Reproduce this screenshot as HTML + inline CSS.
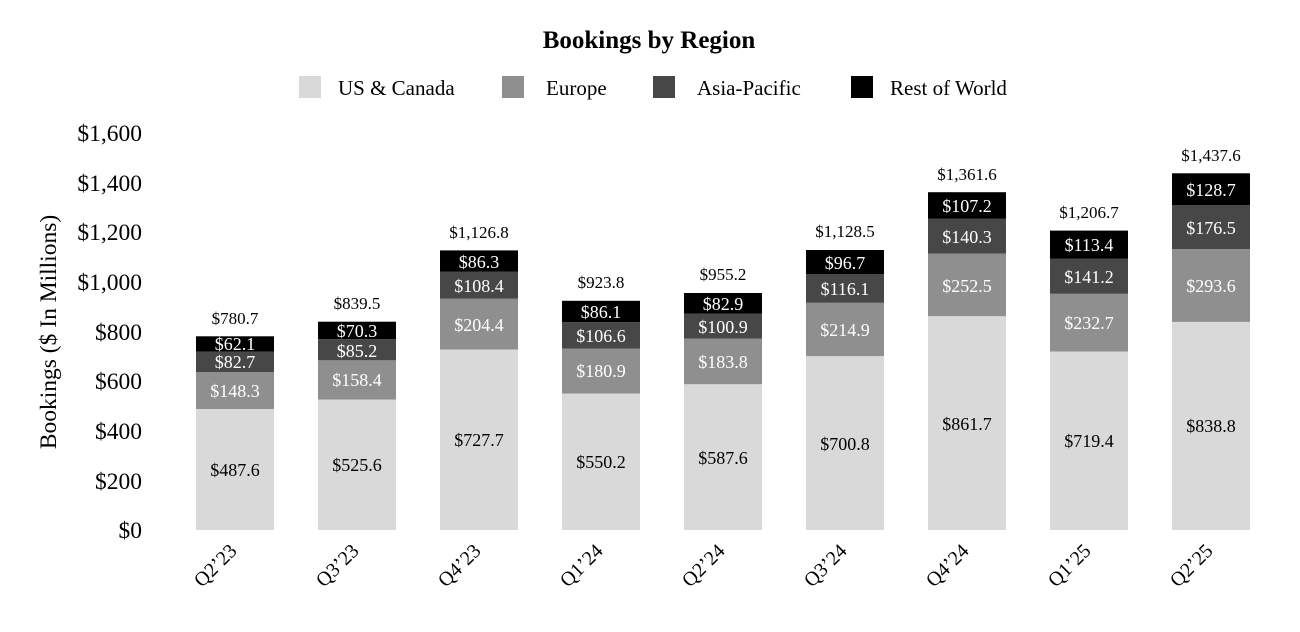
<!DOCTYPE html>
<html><head><meta charset="utf-8"><style>html,body{margin:0;padding:0;background:#fff}svg{display:block}</style></head>
<body>
<svg width="1300" height="632" viewBox="0 0 1300 632" xmlns="http://www.w3.org/2000/svg" font-family="'Liberation Serif', serif">
<text x="649" y="48" font-size="25" font-weight="bold" text-anchor="middle">Bookings by Region</text>
<rect x="299" y="76" width="22" height="22" fill="#d9d9d9"/><text x="338" y="95" font-size="21">US &amp; Canada</text>
<rect x="502" y="76" width="22" height="22" fill="#8f8f8f"/><text x="546" y="95" font-size="21">Europe</text>
<rect x="653" y="76" width="22" height="22" fill="#474747"/><text x="697" y="95" font-size="21">Asia-Pacific</text>
<rect x="851" y="76" width="22" height="22" fill="#000"/><text x="890" y="95" font-size="21">Rest of World</text>
<g font-size="23.5" text-anchor="end">
<text x="142" y="141">$1,600</text><text x="142" y="191">$1,400</text><text x="142" y="240">$1,200</text><text x="142" y="290">$1,000</text><text x="142" y="340">$800</text><text x="142" y="389">$600</text><text x="142" y="439">$400</text><text x="142" y="489">$200</text><text x="142" y="538">$0</text>
</g>
<text transform="translate(56,332) rotate(-90)" font-size="23.5" text-anchor="middle">Bookings ($ In Millions)</text>
<g>
<rect x="196" y="409.0" width="78" height="121.0" fill="#d9d9d9"/><rect x="196" y="372.2" width="78" height="36.8" fill="#8f8f8f"/><rect x="196" y="351.7" width="78" height="20.5" fill="#474747"/><rect x="196" y="336.3" width="78" height="15.4" fill="#000"/>
<rect x="318" y="399.6" width="78" height="130.4" fill="#d9d9d9"/><rect x="318" y="360.3" width="78" height="39.3" fill="#8f8f8f"/><rect x="318" y="339.2" width="78" height="21.1" fill="#474747"/><rect x="318" y="321.7" width="78" height="17.5" fill="#000"/>
<rect x="440" y="349.5" width="78" height="180.5" fill="#d9d9d9"/><rect x="440" y="298.7" width="78" height="50.8" fill="#8f8f8f"/><rect x="440" y="271.8" width="78" height="26.9" fill="#474747"/><rect x="440" y="250.4" width="78" height="21.4" fill="#000"/>
<rect x="562" y="393.5" width="78" height="136.5" fill="#d9d9d9"/><rect x="562" y="348.6" width="78" height="44.9" fill="#8f8f8f"/><rect x="562" y="322.2" width="78" height="26.4" fill="#474747"/><rect x="562" y="300.8" width="78" height="21.4" fill="#000"/>
<rect x="684" y="384.2" width="78" height="145.8" fill="#d9d9d9"/><rect x="684" y="338.6" width="78" height="45.6" fill="#8f8f8f"/><rect x="684" y="313.6" width="78" height="25.0" fill="#474747"/><rect x="684" y="293.0" width="78" height="20.6" fill="#000"/>
<rect x="806" y="356.1" width="78" height="173.9" fill="#d9d9d9"/><rect x="806" y="302.8" width="78" height="53.3" fill="#8f8f8f"/><rect x="806" y="274.0" width="78" height="28.8" fill="#474747"/><rect x="806" y="250.0" width="78" height="24.0" fill="#000"/>
<rect x="928" y="316.2" width="78" height="213.8" fill="#d9d9d9"/><rect x="928" y="253.6" width="78" height="62.6" fill="#8f8f8f"/><rect x="928" y="218.8" width="78" height="34.8" fill="#474747"/><rect x="928" y="192.2" width="78" height="26.6" fill="#000"/>
<rect x="1050" y="351.5" width="78" height="178.5" fill="#d9d9d9"/><rect x="1050" y="293.8" width="78" height="57.7" fill="#8f8f8f"/><rect x="1050" y="258.8" width="78" height="35.0" fill="#474747"/><rect x="1050" y="230.6" width="78" height="28.2" fill="#000"/>
<rect x="1172" y="321.9" width="78" height="208.1" fill="#d9d9d9"/><rect x="1172" y="249.1" width="78" height="72.8" fill="#8f8f8f"/><rect x="1172" y="205.3" width="78" height="43.8" fill="#474747"/><rect x="1172" y="173.3" width="78" height="32.0" fill="#000"/>
</g>
<g font-size="18" text-anchor="middle">
<text x="235" y="476">$487.6</text><text x="357" y="471">$525.6</text><text x="479" y="446">$727.7</text><text x="601" y="468">$550.2</text><text x="723" y="464">$587.6</text><text x="845" y="450">$700.8</text><text x="967" y="430">$861.7</text><text x="1089" y="447">$719.4</text><text x="1211" y="432">$838.8</text>
</g>
<g font-size="17" text-anchor="middle">
<text x="235" y="324">$780.7</text><text x="357" y="309">$839.5</text><text x="479" y="238">$1,126.8</text><text x="601" y="288">$923.8</text><text x="723" y="280">$955.2</text><text x="845" y="237">$1,128.5</text><text x="967" y="180">$1,361.6</text><text x="1089" y="218">$1,206.7</text><text x="1211" y="161">$1,437.6</text>
</g>
<g font-size="18" text-anchor="middle" fill="#fff">
<text x="235" y="397">$148.3</text><text x="357" y="386">$158.4</text><text x="479" y="331">$204.4</text><text x="601" y="377">$180.9</text><text x="723" y="368">$183.8</text><text x="845" y="336">$214.9</text><text x="967" y="292">$252.5</text><text x="1089" y="329">$232.7</text><text x="1211" y="292">$293.6</text>
<text x="235" y="368">$82.7</text><text x="357" y="357">$85.2</text><text x="479" y="292">$108.4</text><text x="601" y="342">$106.6</text><text x="723" y="333">$100.9</text><text x="845" y="295">$116.1</text><text x="967" y="243">$140.3</text><text x="1089" y="283">$141.2</text><text x="1211" y="234">$176.5</text>
<text x="235" y="350">$62.1</text><text x="357" y="337">$70.3</text><text x="479" y="268">$86.3</text><text x="601" y="318">$86.1</text><text x="723" y="310">$82.9</text><text x="845" y="269">$96.7</text><text x="967" y="212">$107.2</text><text x="1089" y="251">$113.4</text><text x="1211" y="196">$128.7</text>
</g>
<g font-size="20" text-anchor="end">
<text transform="translate(238,552) rotate(-45)">Q2’23</text>
<text transform="translate(360,552) rotate(-45)">Q3’23</text>
<text transform="translate(482,552) rotate(-45)">Q4’23</text>
<text transform="translate(604,552) rotate(-45)">Q1’24</text>
<text transform="translate(726,552) rotate(-45)">Q2’24</text>
<text transform="translate(848,552) rotate(-45)">Q3’24</text>
<text transform="translate(970,552) rotate(-45)">Q4’24</text>
<text transform="translate(1092,552) rotate(-45)">Q1’25</text>
<text transform="translate(1214,552) rotate(-45)">Q2’25</text>
</g>
</svg>
</body></html>
